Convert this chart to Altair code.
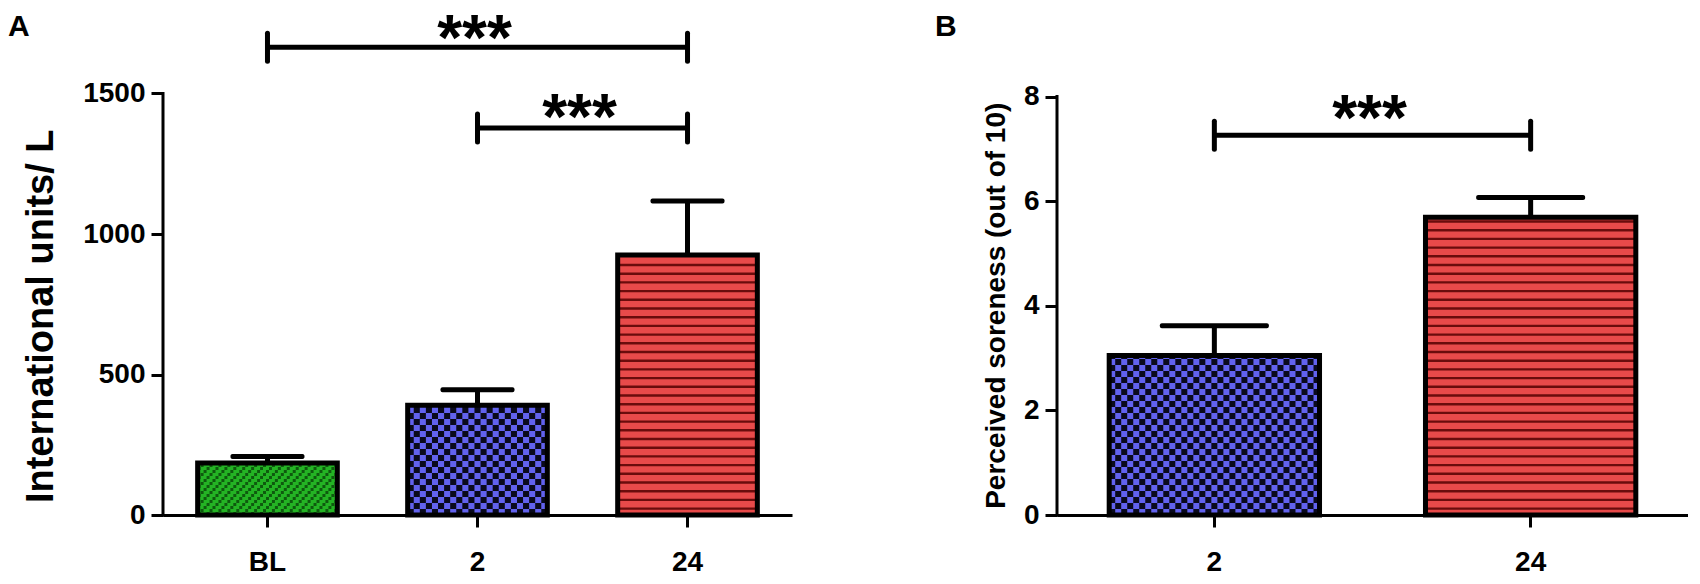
import altair as alt
import pandas as pd

FONT = "Liberation Sans"

# ---------------- data ----------------
# Panel A: serum enzyme (International units / L)
a_cats = ["BL", "2", "24"]
a_means = [185, 391, 925]
a_tops = [208, 446, 1117]          # mean + SEM
a_sig_from = ["BL", "2"]
a_sig_to = ["24", "24"]
a_sig_level = [1665, 1377]
a_ticks = [0, 500, 1000, 1500]

# Panel B: perceived soreness (out of 10)
b_cats = ["2", "24"]
b_means = [3.05, 5.69]
b_tops = [3.62, 6.07]
b_sig_from = ["2"]
b_sig_to = ["24"]
b_sig_level = [7.26]
b_ticks = [0, 2, 4, 6, 8]

# ---------------- styles ----------------
COL = {"BL": "#24b324", "2": "#6262ee", "24": "#e84a4a"}
GREEN_DARK = "#0e5a0e"
CHECK = "#0a0a1c"
STRIPE = "#6a0c0c"
H = 507
P_IN, P_OUT = 0.335, 0.165
STAR_SIZE = 64


def panel(cats, means, tops, s_from, s_to, s_level, ticks, dmax, W,
          ytitle, ytitle_size, ytitle_x, ytitle_shift, letter, letter_x,
          cap, star_dys, cell):
    k = H / dmax                          # px per data unit
    nst = len(cats) - P_IN + 2 * P_OUT    # range length in band steps
    step = W / nst
    bw = step * (1 - P_IN)
    bars = pd.DataFrame({"cat": cats, "mean": means, "top": tops})
    sig = pd.DataFrame({"c1": s_from, "c2": s_to, "level": s_level})

    xs = alt.Scale(domain=cats, paddingInner=P_IN, paddingOuter=P_OUT, round=False)
    xlin = alt.Scale(domain=[0, nst], nice=False, zero=False, round=False)
    ys = alt.Scale(domain=[0, dmax], nice=False, zero=True)
    xax = alt.Axis(title=None, labelAngle=0, labelFont=FONT, labelFontSize=28,
                   labelFontWeight="bold", labelColor="black", labelPadding=21,
                   tickSize=12, tickWidth=3, tickColor="black", domainWidth=3,
                   domainColor="black", grid=False)
    yax = alt.Axis(title=None, values=ticks, format="d", domain=False, grid=False,
                   tickSize=12, tickWidth=3, tickColor="black", labelFont=FONT,
                   labelFontSize=28, labelFontWeight="bold", labelColor="black",
                   labelPadding=6)

    def X(f, axis=False):
        return alt.X(f, scale=xs, axis=xax if axis else None, sort=cats)

    def Y(f):
        return alt.Y(f, scale=ys, axis=yax)

    base = alt.Chart(bars)
    fill = base.mark_bar(strokeWidth=0).encode(
        x=X("cat:N", axis=True), y=Y("mean:Q"),
        color=alt.Color("cat:N", scale=alt.Scale(domain=cats, range=[COL[c] for c in cats]),
                        legend=None))

    def grid_layer(cat, cell_px, rule, color):
        idx = cats.index(cat)
        ncols = int(round(bw / cell_px))
        cw = (1 - P_IN) / ncols
        h = cell_px / k
        return (base.transform_filter(f"datum.cat == '{cat}'")
                .transform_calculate(cs=f"sequence(0, {ncols})")
                .transform_flatten(["cs"], as_=["c"])
                .transform_calculate(rs=f"sequence(0, ceil(datum.mean / {h}))")
                .transform_flatten(["rs"], as_=["r"])
                .transform_filter(rule)
                .transform_calculate(x0=f"{P_OUT + idx} + datum.c * {cw}",
                                     x1=f"{P_OUT + idx} + (datum.c + 1) * {cw}",
                                     y0=f"datum.r * {h}",
                                     y1=f"min((datum.r + 1) * {h}, datum.mean)")
                .mark_rect(color=color)
                .encode(x=alt.X("x0:Q", scale=xlin, axis=None), x2="x1:Q",
                        y=Y("y0:Q"), y2="y1:Q"))

    patterns = []
    if "2" in cats:
        patterns.append(grid_layer("2", cell, "(datum.c + datum.r) % 2 == 0", CHECK))
    if "BL" in cats:
        patterns.append(grid_layer("BL", 3.0, "(datum.c + 2 * datum.r) % 3 == 0", GREEN_DARK))

    p = 8.7 / k
    t = 2.4 / k
    stripes = (base.transform_filter("datum.cat == '24'")
               .transform_calculate(rs=f"sequence(0, floor(datum.mean / {p}))")
               .transform_flatten(["rs"], as_=["r"])
               .transform_calculate(y0=f"(datum.r + 0.6) * {p}",
                                    y1=f"(datum.r + 0.6) * {p} + {t}")
               .transform_filter("datum.y1 < datum.mean")
               .mark_bar(color=STRIPE)
               .encode(x=X("cat:N"), y=Y("y0:Q"), y2="y1:Q"))

    outline = base.mark_bar(fillOpacity=0, stroke="black", strokeWidth=5,
                            strokeJoin="miter").encode(x=X("cat:N"), y=Y("mean:Q"))
    err = base.mark_rule(strokeWidth=5, color="black").encode(
        x=X("cat:N"), y=Y("mean:Q"), y2="top:Q")
    capm = base.mark_tick(size=cap, thickness=5, color="black", opacity=1,
                          cornerRadius=2).encode(x=X("cat:N"), y=Y("top:Q"))

    sig_line = alt.Chart(sig).mark_rule(strokeWidth=5, color="black").encode(
        x=X("c1:N"), x2="c2:N", y=Y("level:Q"))
    d = 14 / k
    sig_ends = (alt.Chart(sig).transform_fold(["c1", "c2"], as_=["which", "end"])
                .transform_calculate(lo=f"datum.level - {d}", hi=f"datum.level + {d}")
                .mark_rule(strokeWidth=5, color="black", strokeCap="round")
                .encode(x=X("end:N"), y=Y("lo:Q"), y2="hi:Q"))
    rest = [stripes, outline, err, capm, sig_line, sig_ends]

    for c1, c2, lv, sdy in zip(s_from, s_to, s_level, star_dys):
        dx = (cats.index(c2) - cats.index(c1)) / 2 * step
        one = pd.DataFrame({"c1": [c1], "level": [lv]})
        rest.append(alt.Chart(one).mark_text(
            text="***", font=FONT, fontSize=STAR_SIZE, fontWeight="bold", color="black",
            baseline="alphabetic", align="center", dx=dx - 3, dy=sdy
        ).encode(x=X("c1:N"), y=Y("level:Q")))

    one_row = pd.DataFrame({"k": [0]})
    axis_line = alt.Chart(one_row).mark_rule(strokeWidth=3, color="black",
                                             strokeCap="square").encode(
        x=alt.value(0), y=alt.Y(datum=0, scale=ys, axis=yax), y2=alt.Y2(datum=ticks[-1]))
    ytext = alt.Chart(one_row).mark_text(
        text=ytitle, font=FONT, fontSize=ytitle_size, fontWeight="bold", color="black",
        angle=270, align="center", baseline="alphabetic"
    ).encode(x=alt.value(ytitle_x),
             y=alt.Y(datum=ticks[-1] / 2 - ytitle_shift / k, scale=ys, axis=yax))
    letter_t = alt.Chart(one_row).mark_text(
        text=letter, font=FONT, fontSize=30, fontWeight="bold", color="black",
        align="left", baseline="alphabetic"
    ).encode(x=alt.value(letter_x), y=alt.value(28))
    rest += [axis_line, ytext, letter_t]

    return (alt.layer(fill, *patterns, alt.layer(*rest))
            .resolve_scale(x="independent")
            .properties(width=W, height=H))


D_A = 1500 * H / (515 - 93.5)
D_B = 8 * H / (515 - 96.5)

pa = panel(a_cats, a_means, a_tops, a_sig_from, a_sig_to, a_sig_level, a_ticks, D_A, 629,
           "International units/ L", 38, -110, 12, "A", -155, 74, [12.5, 10.5], 6.0)
pb = panel(b_cats, b_means, b_tops, b_sig_from, b_sig_to, b_sig_level, b_ticks, D_B, 631,
           "Perceived soreness (out of 10)", 28, -52, 0, "B", -122, 109, [4.5], 6.0)

chart = (alt.hconcat(pa, pb, spacing=265, bounds="flush", padding=0)
         .configure(font=FONT)
         .configure_view(strokeWidth=0, stroke="transparent"))

chart.save("out.html", embed_options={"renderer": "svg", "actions": False})
